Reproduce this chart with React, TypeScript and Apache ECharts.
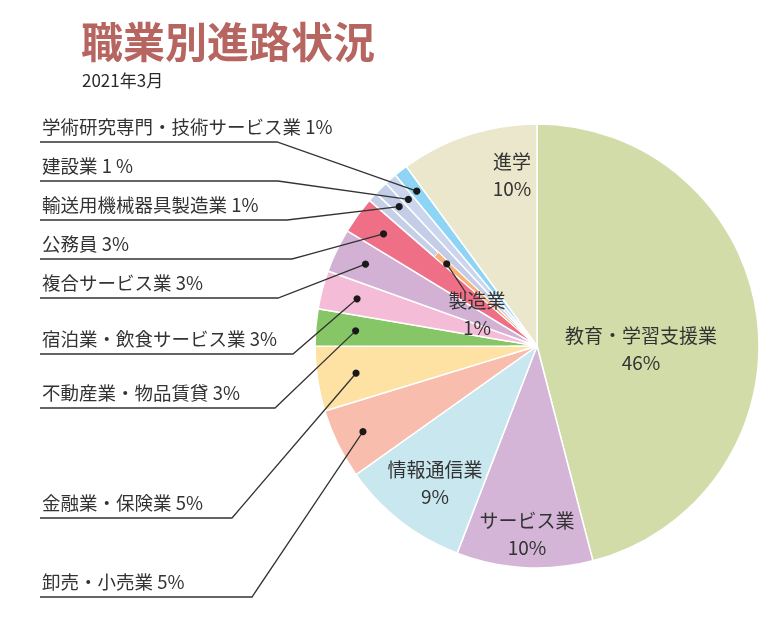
import React, { useEffect, useRef } from "react";
import * as echarts from "echarts";

// ---- data ----
const categories = [
  "教育・学習支援業",
  "サービス業",
  "情報通信業",
  "卸売・小売業",
  "金融業・保険業",
  "不動産業・物品賃貸",
  "宿泊業・飲食サービス業",
  "複合サービス業",
  "公務員",
  "製造業",
  "輸送用機械器具製造業",
  "建設業",
  "学術研究専門・技術サービス業",
  "進学",
];
const shares = [45.9, 9.9, 9.3, 5.1, 4.7, 2.7, 2.8, 3.2, 2.7, 0.7, 1.0, 0.9, 1.0, 10.0];
const percentLabels = ["46%", "10%", "9%", "5%", "5%", "3%", "3%", "3%", "3%", "1%", "1%", "1 %", "1%", "10%"];
const titleText = "職業別進路状況";
const subTitleText = "2021年3月";

// ---- styles / layout ----
const colors = [
  "#d2dca9", "#d4b5d7", "#c9e7ef", "#f9bdae", "#fde2a4", "#86c667", "#f5bcd7",
  "#d2b1d5", "#ef6f86", "#c5cfe8", "#c3cde7", "#cbd6ee", "#8dd4f5", "#ebe7cd",
];
const MANUFACTURE_COLOR = "#f8b07d";
const CX = 537;
const CY = 346;
const R = 222;
const INNER_R = 136;
const LINE_COLOR = "#333";
const TEXT_COLOR = "#333";
const FONT = '"Noto Sans CJK JP", "Noto Sans", sans-serif';

// outer labels: underline y, elbow x, dot radius
const outside: Record<number, { uy: number; ex: number; dr: number }> = {
  12: { uy: 142, ex: 277, dr: 196 },
  11: { uy: 181, ex: 278, dr: 195 },
  10: { uy: 220, ex: 287, dr: 196 },
  8: { uy: 259, ex: 292, dr: 190 },
  7: { uy: 298, ex: 278, dr: 190 },
  6: { uy: 354, ex: 293, dr: 186 },
  5: { uy: 408, ex: 275, dr: 182 },
  4: { uy: 518, ex: 232, dr: 183 },
  3: { uy: 597, ex: 252, dr: 194 },
};
// inner labels: centre position
const inside: Record<number, { x: number; y: number; dr?: number; lx?: number; ly?: number }> = {
  0: { x: 641, y: 348 },
  1: { x: 527, y: 533 },
  2: { x: 435, y: 482 },
  13: { x: 512, y: 174 },
  9: { x: 477, y: 313, dr: 122, lx: 466, ly: 293 },
};

const total = shares.reduce((a, b) => a + b, 0);
function midAngle(i: number) {
  let before = 0;
  for (let j = 0; j < i; j++) before += shares[j];
  return ((before + shares[i] / 2) / total) * Math.PI * 2;
}
function polar(i: number, r: number): [number, number] {
  const a = midAngle(i);
  return [CX + r * Math.sin(a), CY - r * Math.cos(a)];
}

export default function App() {
  const ref = useRef<HTMLDivElement>(null);
  useEffect(() => {
    document.body.style.margin = "0";
    const chart = echarts.init(ref.current!, null, { renderer: "svg" });

    const leaders: any[] = [];
    const addLeader = (pts: number[][], dot: [number, number]) => {
      leaders.push({
        type: "polyline",
        shape: { points: pts },
        style: { stroke: LINE_COLOR, lineWidth: 1.3, fill: null },
        z: 99,
        silent: true,
      });
      leaders.push({
        type: "circle",
        shape: { cx: dot[0], cy: dot[1], r: 3.6 },
        style: { fill: "#1a1a1a" },
        z: 100,
        silent: true,
      });
    };
    Object.keys(outside).forEach((k) => {
      const i = Number(k);
      const o = outside[i];
      const d = polar(i, o.dr);
      addLeader([d, [o.ex, o.uy], [40, o.uy]], d);
    });
    Object.keys(inside).forEach((k) => {
      const i = Number(k);
      const s = inside[i];
      if (s.dr) {
        const d = polar(i, s.dr);
        addLeader([d, [s.lx!, s.ly!]], d);
      }
    });

    const mainData = categories.map((name, i) => ({
      name,
      value: shares[i],
      itemStyle: { color: colors[i] },
    }));
    const overlayData = categories.map((name, i) => ({
      name,
      value: shares[i],
      itemStyle:
        i === 9
          ? { color: MANUFACTURE_COLOR, borderColor: "#fff", borderWidth: 1 }
          : { color: "rgba(0,0,0,0)", borderWidth: 0 },
    }));

    chart.setOption({
      animation: false,
      title: [
        {
          text: titleText,
          left: 76,
          top: 13,
          textStyle: { fontFamily: FONT, fontSize: 42, fontWeight: "bold", color: "#b66560" },
        },
        {
          text: subTitleText,
          left: 77,
          top: 66,
          textStyle: { fontFamily: FONT, fontSize: 17, fontWeight: "normal", color: "#2a2a2a" },
        },
      ],
      graphic: leaders,
      series: [
        {
          type: "pie",
          center: [CX, CY],
          radius: [0, R],
          startAngle: 90,
          clockwise: true,
          avoidLabelOverlap: false,
          itemStyle: { borderColor: "#fff", borderWidth: 1.5 },
          label: {
            show: true,
            position: "outside",
            fontFamily: FONT,
            fontSize: 19,
            color: TEXT_COLOR,
            lineHeight: 27,
            formatter: (p: any) => {
              const i = p.dataIndex;
              if (outside[i]) return `{o|${categories[i]} ${percentLabels[i]}}`;
              return `${categories[i]}\n${percentLabels[i]}`;
            },
            rich: {
              o: { fontFamily: FONT, fontSize: 18.5, color: TEXT_COLOR },
            },
          },
          labelLine: { show: false },
          labelLayout: (p: any) => {
            const i = p.dataIndex;
            const o = outside[i];
            if (o) {
              return { x: 42, y: o.uy - 16, align: "left", verticalAlign: "middle" };
            }
            const d = inside[i];
            return { x: d.x, y: d.y, align: "center", verticalAlign: "middle" };
          },
          emphasis: { disabled: true },
          data: mainData,
        },
        {
          type: "pie",
          center: [CX, CY],
          radius: [0, INNER_R],
          startAngle: 90,
          clockwise: true,
          silent: true,
          label: { show: false },
          labelLine: { show: false },
          emphasis: { disabled: true },
          data: overlayData,
        },
      ],
    });
    return () => chart.dispose();
  }, []);
  return <div ref={ref} style={{ position: "fixed", left: 0, top: 0, width: 769, height: 620 }} />;
}
